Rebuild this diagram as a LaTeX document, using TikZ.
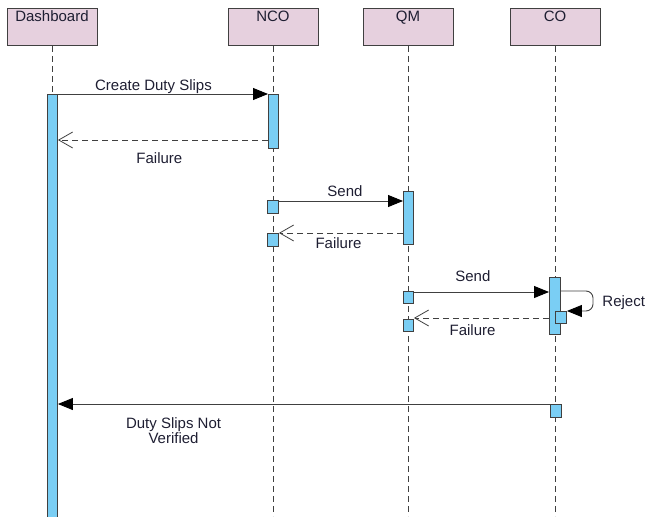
\documentclass[tikz,border=0pt]{standalone}
\usepackage{fontspec}
\setmainfont{Liberation Sans}
\usetikzlibrary{arrows.meta}
\definecolor{headpink}{RGB}{230,208,222}
\definecolor{barblue}{RGB}{122,206,244}
\definecolor{linegray}{RGB}{64,64,64}
\definecolor{textnavy}{RGB}{30,30,50}

\begin{document}
\begin{tikzpicture}[x=1pt,y=-1pt,font=\fontsize{15}{15}\selectfont]
\useasboundingbox (0,0) rectangle (647,516);
\coordinate (bottom) at (0,516);

\begin{scope}[every node/.style={rectangle,draw=linegray,fill=headpink,line width=1pt,
              minimum width=90pt,inner sep=0pt,text height=13pt,text depth=24pt,
              anchor=north,text=textnavy}]
    \node (dash) at (52,8) {Dashboard};
    \node (nco) at (273,8) {NCO};
    \node (qm) at (408,8) {QM};
    \node (co) at (555,8) {CO};
\end{scope}

\begin{scope}[lifeline/.style={draw=linegray,line width=0.8pt,dash pattern=on 6pt off 4pt}]
    \draw[lifeline] (dash.south) -- (dash.south |- bottom);
    \draw[lifeline] (nco.south) -- (nco.south |- bottom);
    \draw[lifeline] (qm.south) -- (qm.south |- bottom);
    \draw[lifeline] (co.south) -- (co.south |- bottom);
\end{scope}

\begin{scope}[every node/.style={rectangle,draw=linegray,fill=barblue,line width=0.9pt,
              inner sep=0pt,anchor=north west,minimum width=10pt}]
    \node[minimum height=430pt] (dashbar) at (47,94) {};
    \node[minimum height=54pt] (ncobar) at (268,94) {};
    \node[minimum width=11pt,minimum height=13pt] (ncobox1) at (267,200) {};
    \node[minimum width=11pt,minimum height=13pt] (ncobox2) at (267,233) {};
    \node[minimum height=53pt] (qmbar) at (403,191) {};
    \node[minimum height=12pt] (qmbox1) at (403,291) {};
    \node[minimum height=12pt] (qmbox2) at (403,319) {};
    \node[minimum width=11pt,minimum height=57pt] (cobar) at (549,277) {};
    \node[minimum width=11pt,minimum height=12pt] (cobox1) at (555,311) {};
    \node[minimum width=11pt,minimum height=13pt] (cobox2) at (550,404) {};
\end{scope}

\coordinate (fail1) at (268,140);
\coordinate (send1) at (278,201);
\coordinate (fail2) at (403,233);
\coordinate (send2) at (413,292);
\coordinate (rej) at (560,291);
\coordinate (fail3) at (549,318);
\coordinate (notver) at (550,404);

\begin{scope}[call/.style={draw=linegray,line width=0.9pt,-{Triangle[length=15pt,width=12pt,black]}},
              reply/.style={draw=linegray,line width=0.9pt,dash pattern=on 6pt off 4pt,
                            -{Straight Barb[length=14pt,width=16pt,line width=0.8pt]}},
              every node/.style={text=textnavy,anchor=base}]
    \path (dashbar.north east) edge[call] node[pos=0.455,yshift=3pt] {Create Duty Slips} (ncobar.north west);
    \path (fail1) edge[reply] node[pos=0.517,yshift=-23pt] {Failure} (fail1 -| dashbar.east);
    \path (send1) edge[call] node[pos=0.536,yshift=5pt] {Send} (send1 -| qmbar.west);
    \path (fail2) edge[reply] node[pos=0.52,yshift=-15pt] {Failure} (fail2 -| ncobox2.east);
    \path (send2) edge[call] node[pos=0.44,yshift=11pt] {Send} (send2 -| cobar.west);
    \draw[call,rounded corners=7pt] (rej) -- ++(33,0) -- ++(0,20)
        node[pos=0.6,anchor=base west,inner sep=0pt,xshift=9pt,yshift=-3pt] {Reject} -- (cobox1.north east);
    \path (fail3) edge[reply] node[pos=0.566,yshift=-17pt] {Failure} (fail3 -| qmbox2.east);
    \path (notver) edge[call] node[pos=0.765,anchor=north,align=center,inner sep=0pt,yshift=-13pt]
        {Duty Slips Not\\Verified} (notver -| dashbar.east);
\end{scope}
\end{tikzpicture}
\end{document}
